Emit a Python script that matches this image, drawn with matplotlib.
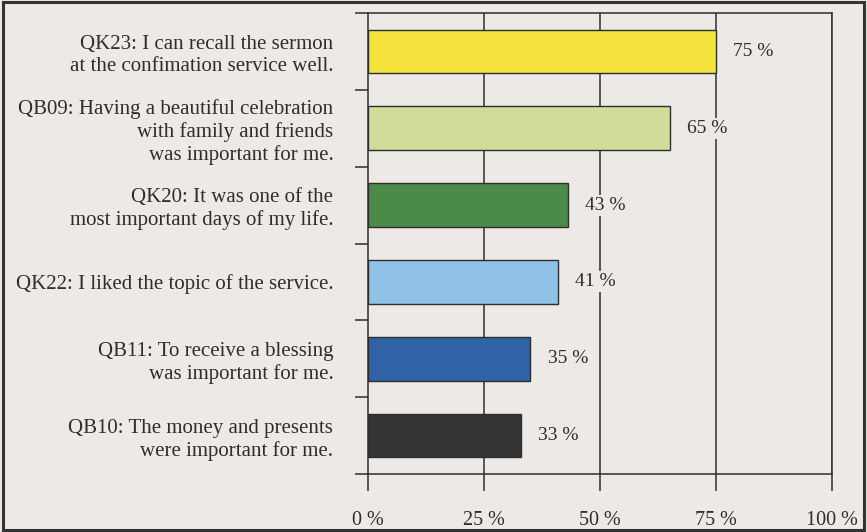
import matplotlib
matplotlib.use("Agg")
import matplotlib.pyplot as plt
from matplotlib.patches import Rectangle

# Survey items (top to bottom) and share of agreement in percent
items = [
    "QK23: I can recall the sermon\nat the confimation service well.",
    "QB09: Having a beautiful celebration\nwith family and friends\nwas important for me.",
    "QK20: It was one of the\nmost important days of my life.",
    "QK22: I liked the topic of the service.",
    "QB11: To receive a blessing\nwas important for me.",
    "QB10: The money and presents\nwere important for me.",
]
values = [75, 65, 43, 41, 35, 33]
colors = ["#f3e23c", "#d0dc98", "#4c8a4a", "#90c1e6", "#2f62a6", "#343434"]
xticks = [0, 25, 50, 75, 100]
xtick_labels = ["0 %", "25 %", "50 %", "75 %", "100 %"]

plt.rcParams["font.family"] = ["Liberation Serif", "DejaVu Serif"]
bg = "#ece9e6"
ink = "#2e2e2e"

fig = plt.figure(figsize=(8.67, 5.32), dpi=100, facecolor=bg)
ax = fig.add_axes([368 / 867, 58 / 532, 464 / 867, 461 / 532])
ax.set_facecolor(bg)

n = len(items)
ypos = list(range(n))

# vertical grid lines behind the bars
for x in xticks[1:]:
    ax.axvline(x, color=ink, lw=1.1, zorder=1)

ax.barh(ypos, values, height=0.57, color=colors, edgecolor=ink,
        linewidth=1.0, zorder=3)

for y, v in zip(ypos, values):
    ax.text(v + 3.7, y, f"{v} %", va="center", ha="left",
            fontsize=14, color=ink, zorder=4,
            bbox=dict(boxstyle="square,pad=0.1", facecolor=bg, edgecolor="none"))

ax.set_xlim(0, 100)
ax.set_ylim(n - 0.5, -0.5)

# category boundaries as outward ticks, labels centred on the bars
ax.set_yticks([i - 0.5 for i in range(n + 1)])
ax.set_yticklabels([])
ax.set_yticks(ypos, minor=True)
ax.set_yticklabels(items, minor=True, fontsize=15, color=ink,
                   linespacing=1.2, ha="right")
ax.tick_params(axis="y", which="major", direction="out", length=9.5,
               width=1.1, color=ink)
ax.tick_params(axis="y", which="minor", length=0, pad=25)

ax.set_xticks(xticks)
ax.set_xticklabels(xtick_labels, fontsize=14.5, color=ink)
ax.tick_params(axis="x", direction="out", length=12, width=1.1,
               color=ink, pad=14.5)

for side in ["left", "bottom", "top", "right"]:
    ax.spines[side].set_color(ink)
    ax.spines[side].set_linewidth(1.1)

# frame around the whole figure
fig.patches.append(Rectangle((0.003, 0.004), 0.994, 0.992, transform=fig.transFigure,
                             fill=False, edgecolor="#333333", linewidth=2.2,
                             zorder=10))

fig.savefig("out.png", dpi=100, facecolor=bg)
